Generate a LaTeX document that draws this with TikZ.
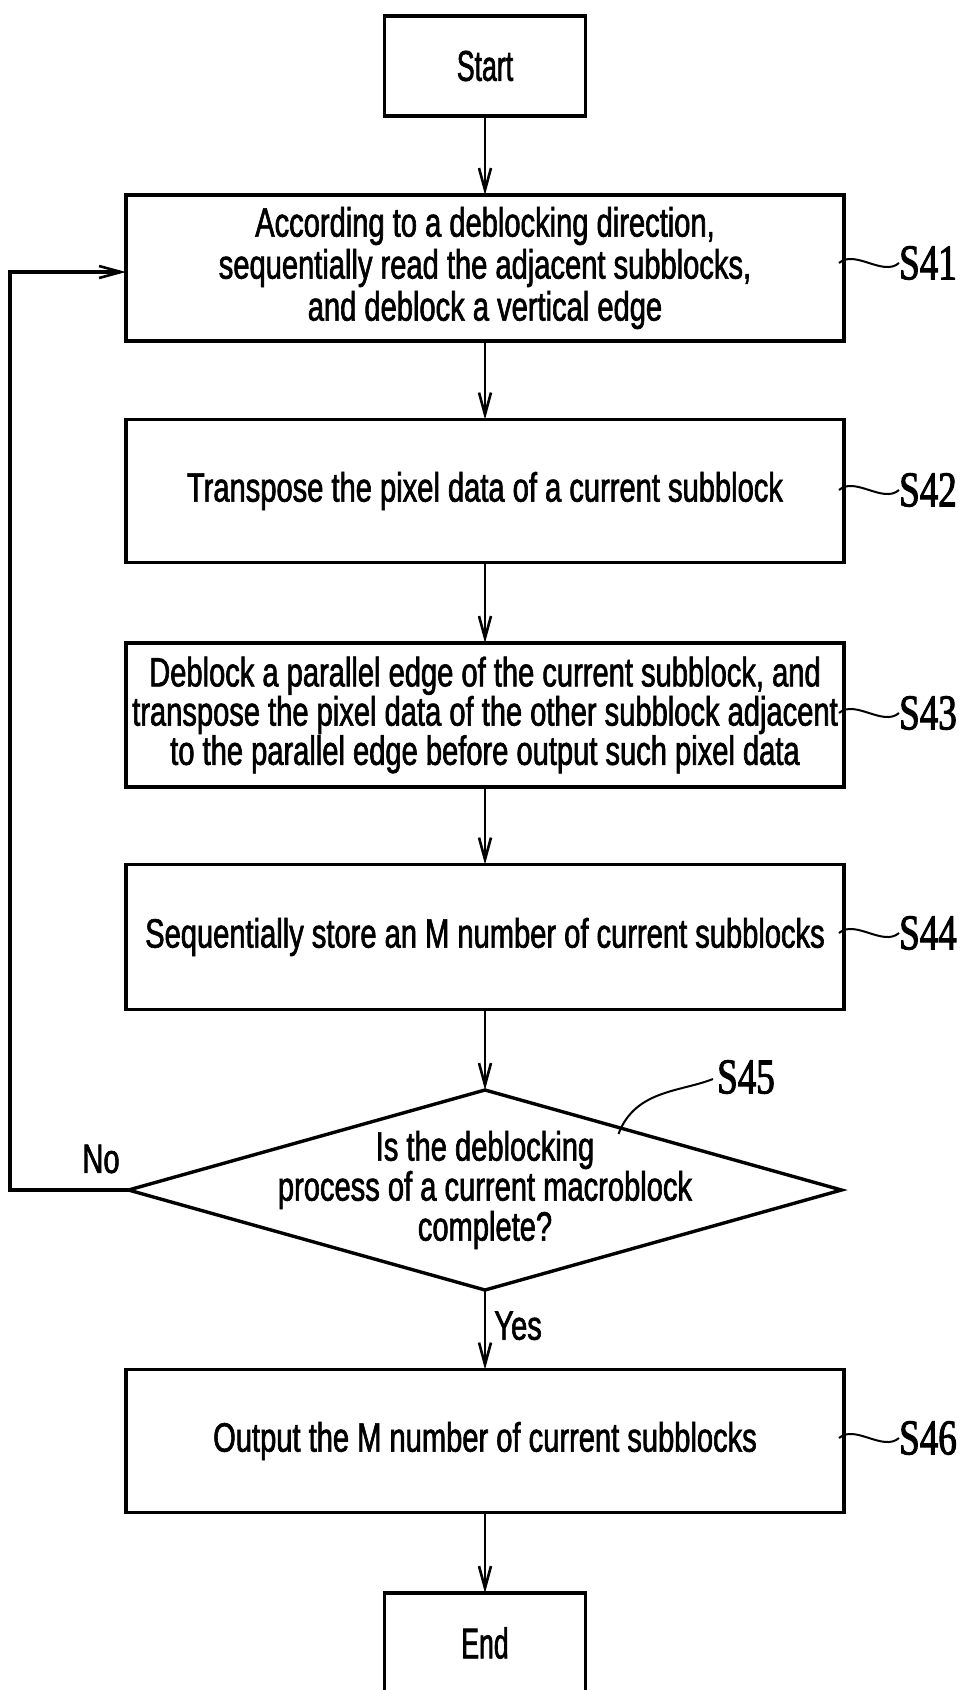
\documentclass[tikz,border=0pt]{standalone}
\usepackage{fontspec}
\setmainfont{Liberation Sans}[FakeStretch=0.71, FakeBold=1.5]
\newfontfamily\termfont{Liberation Sans}[FakeStretch=0.62, FakeBold=1.5]
\newfontfamily\steplabelfont{Liberation Serif}[FakeStretch=0.74, FakeBold=2]
\usetikzlibrary{shapes.geometric,arrows.meta,calc}
\tikzset{
  procbox/.style={draw, line width=3.4pt, rectangle, minimum width=718pt, inner sep=0pt, outer sep=0pt, align=center, font=\fontsize{41}{42}\selectfont},
  termbox/.style={draw, line width=3.4pt, rectangle, minimum width=201pt, minimum height=100pt, inner sep=0pt, outer sep=0pt, font=\termfont\fontsize{43}{44}\selectfont},
  decbox/.style={draw, line width=3.4pt, diamond, minimum width=713pt, minimum height=200pt, inner sep=0pt, outer sep=0pt},
  flowarrow/.style={draw, line width=2.6pt, -{Straight Barb[length=22pt,width=12pt,line width=2.6pt]}},
  looparrow/.style={flowarrow, line width=3.2pt},
  leader/.style={draw, line width=2pt},
  steplabel/.style={inner sep=0pt, font=\steplabelfont\fontsize{50}{50}\selectfont},
  plainlabel/.style={inner sep=0pt, font=\fontsize{41}{42}\selectfont}
}
\begin{document}
\begin{tikzpicture}[x=1pt,y=-1pt]
\useasboundingbox[fill=white] (0,0) rectangle (969,1690);
% nodes
\node[termbox] (start) at (485,66) {Start};
\node[procbox, minimum height=146pt] (s41) at (485,268) {According to a deblocking direction,\\sequentially read the adjacent subblocks,\\and deblock a vertical edge};
\node[procbox, minimum height=143pt] (s42) at (485,491) {Transpose the pixel data of a current subblock};
\node[procbox, minimum height=144pt, font=\fontsize{41}{38}\selectfont] (s43) at (485,715) {Deblock a parallel edge of the current subblock, and\\transpose the pixel data of the other subblock adjacent\\to the parallel edge before output such pixel data};
\node[procbox, minimum height=145pt] (s44) at (485,937) {Sequentially store an M number of current subblocks};
\node[decbox] (s45) at (485,1190) {};
\node[plainlabel, align=center, font=\fontsize{41}{40}\selectfont] (s45t) at (485,1190) {Is the deblocking\\process of a current macroblock\\complete?};
\node[procbox, minimum height=143pt] (s46) at (485,1441) {Output the M number of current subblocks};
\node[termbox] (end) at (485,1643) {End};
% step labels
\node[steplabel] (l41) at (928,263) {S41};
\node[steplabel] (l42) at (928,490) {S42};
\node[steplabel] (l43) at (928,713) {S43};
\node[steplabel] (l44) at (928,933) {S44};
\node[steplabel] (l45) at (746,1077) {S45};
\node[steplabel] (l46) at (928,1438) {S46};
% flow arrows
\draw[flowarrow] (start) -- (s41);
\draw[flowarrow] (s41) -- (s42);
\draw[flowarrow] (s42) -- (s43);
\draw[flowarrow] (s43) -- (s44);
\draw[flowarrow] (s44) -- (s45);
\draw[flowarrow] (s45) -- node[plainlabel, right=8pt, pos=0.45] (yes) {Yes} (s46);
\draw[flowarrow] (s46) -- (end);
\coordinate (loopa) at (10,1190);
\coordinate (loopb) at (10,272);
\draw[looparrow] (s45.west) -- (loopa) -- (loopb) -- (s41.west |- loopb);
\node[plainlabel] (no) at (101,1159) {No};
% leaders
\draw[leader] (s41.east |- l41) ++(-5,0) coordinate (t41) (t41) .. controls +(16,-14) and +(-16,14) .. (l41.west);
\draw[leader] (s42.east |- l42) ++(-5,0) coordinate (t42) (t42) .. controls +(16,-14) and +(-16,14) .. (l42.west);
\draw[leader] (s43.east |- l43) ++(-5,0) coordinate (t43) (t43) .. controls +(16,-14) and +(-16,14) .. (l43.west);
\draw[leader] (s44.east |- l44) ++(-5,0) coordinate (t44) (t44) .. controls +(16,-14) and +(-16,14) .. (l44.west);
\draw[leader] (s46.east |- l46) ++(-5,0) coordinate (t46) (t46) .. controls +(16,-14) and +(-16,14) .. (l46.west);
\coordinate (t45) at ($(s45.north)!0.38!(s45.east)$);
\draw[leader] ($(t45)+(-2,6)$) .. controls (635,1090) and (680,1092) .. ($(l45.west)+(-4,2)$);
\end{tikzpicture}
\end{document}
